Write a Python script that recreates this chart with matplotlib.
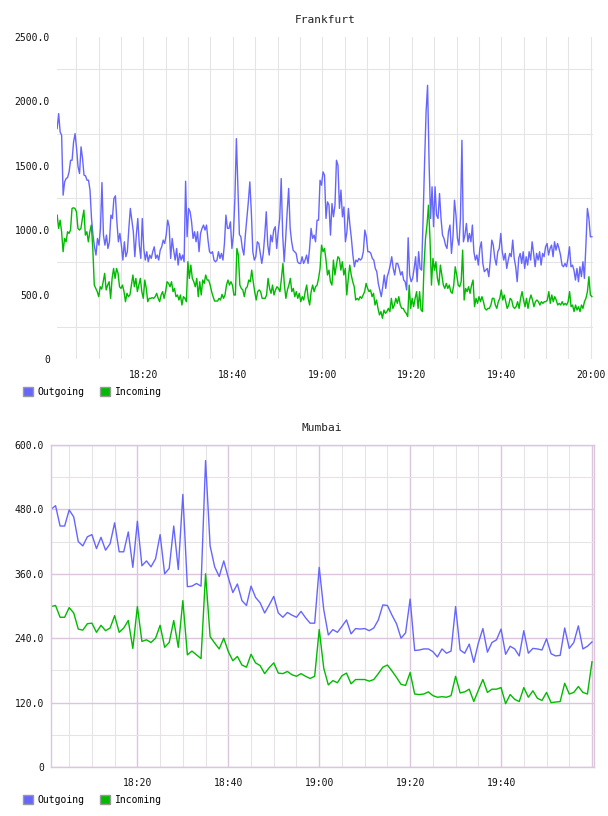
import matplotlib
matplotlib.use("Agg")
import matplotlib.pyplot as plt
import matplotlib.dates as mdates
from matplotlib.patches import Patch
from matplotlib.ticker import MultipleLocator, FuncFormatter
import pandas as pd

BLUE = "#6666ff"
GREEN = "#00bb00"
FONT = "DejaVu Sans Mono"

# Frankfurt, ~20 s samples from 18:00:45 to 20:00:15
fra_out = [
    1789, 1905, 1763, 1737, 1272, 1375, 1401, 1409, 1453, 1543,
    1543, 1685, 1750, 1634, 1492, 1440, 1647, 1556, 1427, 1422,
    1388, 1388, 1311, 1091, 962, 871, 807, 936, 884, 1014,
    1370, 962, 884, 962, 858, 910, 1117, 1091, 1246, 1267,
    1065, 910, 975, 884, 768, 910, 794, 833, 1014, 1169,
    1078, 988, 794, 962, 1091, 884, 781, 1091, 858, 768,
    833, 755, 807, 781, 833, 871, 781, 807, 768, 845,
    871, 923, 897, 962, 1078, 1027, 781, 936, 845, 768,
    858, 729, 820, 768, 807, 755, 1380, 949, 1169, 1143,
    1065, 936, 988, 910, 988, 833, 975, 1014, 1040, 1001,
    1040, 923, 833, 820, 833, 768, 755, 768, 833, 781,
    820, 768, 897, 1117, 1014, 1014, 1065, 858, 962, 1246,
    1711, 1349, 967, 949, 858, 807, 962, 1091, 1220, 1375,
    1143, 833, 768, 794, 910, 897, 820, 742, 820, 962,
    1143, 884, 807, 962, 910, 1001, 1027, 858, 988, 1091,
    1401, 962, 755, 936, 1143, 1324, 1014, 910, 845, 833,
    820, 755, 742, 742, 794, 742, 768, 807, 742, 858,
    1014, 936, 962, 910, 1078, 1078, 1388, 1349, 1453,
    1427, 1091, 1220, 1194, 962, 1207, 1104, 1194, 1543, 1505,
    1169, 1311, 1104, 1181, 910, 988, 1169, 1040, 936, 807,
    716, 768, 755, 781, 768, 781, 833, 1001, 949, 833,
    833, 820, 781, 768, 703, 678, 587, 536, 484, 561,
    652, 548, 639, 678, 729, 794, 703, 652, 742, 742,
    703, 652, 678, 613, 600, 536, 941, 652, 600, 626,
    703, 794, 600, 833, 703, 690, 1091, 1530, 1918, 2125,
    1530, 1091, 1337, 1027, 1337, 1117, 1091, 1285, 1091, 962,
    936, 884, 858, 988, 1040, 820, 949, 1233, 1117, 936,
    884, 1091, 1698, 910, 962, 1052, 910, 975, 910, 1040,
    833, 768, 807, 729, 858, 910, 742, 678, 690, 703,
    639, 768, 923, 884, 781, 729, 833, 858, 975, 833,
    768, 820, 703, 768, 820, 794, 923, 781, 716, 600,
    781, 820, 742, 833, 703, 794, 729, 833, 768, 910,
    820, 716, 820, 768, 833, 729, 820, 794, 871, 897,
    807, 858, 884, 794, 910, 845, 897, 858, 807, 729,
    716, 742, 716, 781, 871, 716, 729, 690, 613, 703,
    600, 716, 639, 755, 626, 884, 1169, 1091, 949, 949,
]
fra_in = [
    1117, 1014, 1078, 988, 833, 936, 910, 988, 975, 1001,
    1169, 1174, 1169, 1143, 1014, 1001, 1014, 1091, 1156, 962,
    988, 910, 988, 1040, 858, 574, 548, 523, 484, 561,
    543, 600, 665, 536, 574, 600, 471, 626, 703, 626,
    703, 665, 561, 548, 574, 523, 445, 510, 484, 497,
    574, 652, 561, 626, 523, 574, 626, 523, 471, 613,
    548, 445, 471, 471, 476, 471, 484, 510, 471, 445,
    497, 523, 471, 523, 600, 587, 561, 600, 523, 548,
    484, 497, 458, 497, 419, 484, 471, 445, 755, 626,
    729, 626, 600, 561, 626, 484, 600, 497, 613, 587,
    652, 613, 613, 574, 523, 484, 450, 450, 450, 471,
    458, 502, 471, 497, 574, 613, 574, 600, 574, 497,
    497, 858, 807, 574, 548, 536, 484, 548, 561, 613,
    600, 690, 600, 523, 458, 523, 536, 523, 471, 471,
    471, 497, 626, 548, 510, 574, 497, 536, 561, 548,
    523, 626, 742, 574, 471, 536, 574, 626, 523, 548,
    484, 523, 471, 510, 445, 484, 458, 523, 574, 471,
    419, 523, 574, 523, 561, 574, 626, 703, 884, 833,
    858,
    768, 652, 690, 600, 574, 768, 652, 729, 794, 781,
    690, 755, 652, 703, 497, 626, 729, 652, 600, 561,
    458, 471, 458, 484, 471, 497, 523, 587, 548, 523,
    536, 484, 510, 419, 458, 393, 342, 368, 316, 380,
    355, 368, 393, 368, 471, 393, 419, 471, 432, 484,
    419, 393, 393, 368, 355, 329, 574, 393, 471, 406,
    471, 523, 393, 523, 380, 368, 729, 936, 1040, 1194,
    936, 574, 781, 690, 755, 626, 574, 729, 652, 574,
    548, 587, 548, 574, 523, 510, 574, 716, 652, 574,
    561, 600, 845, 458, 548, 523, 561, 510, 574, 613,
    406, 471, 432, 484, 445, 484, 445, 393, 380, 393,
    393, 419, 471, 471, 419, 393, 445, 471, 536, 458,
    497, 445, 393, 419, 471, 458, 406, 393, 406, 445,
    393, 471, 523, 458, 406, 471, 393, 458, 497, 458,
    406, 445, 458, 445, 419, 445, 432, 445, 445, 458,
    523, 432, 497, 445, 484, 458, 419, 432, 419, 445,
    419, 432, 419, 445, 523, 406, 419, 368, 419, 380,
    406, 368, 419, 393, 445, 471, 523, 639, 497, 484,
]

# Mumbai, one sample per minute 18:01 .. 20:00
mum_out = [
    480, 487, 449, 449, 479, 466, 420, 412, 429, 433,
    407, 428, 404, 416, 455, 401, 401, 438, 372, 458,
    375, 384, 373, 388, 433, 360, 370, 449, 368, 508,
    336, 337, 342, 337, 571, 412, 373, 355, 384, 353,
    325, 341, 310, 301, 337, 316, 306, 287, 302, 318,
    287, 279, 288, 283, 279, 290, 278, 268, 268, 372,
    293, 246, 256, 251, 262, 274, 248, 258, 257, 258,
    254, 259, 274, 302, 301, 283, 267, 240, 250, 313,
    217, 218, 220, 220, 215, 205, 220, 212, 216, 299,
    218, 212, 229, 195, 231, 258, 214, 232, 237, 257,
    210, 225, 220, 207, 254, 212, 221, 220, 218, 239,
    211, 207, 208, 259, 221, 232, 263, 220, 225, 233,
]
mum_in = [
    299, 301, 279, 279, 297, 287, 257, 255, 267, 268,
    251, 264, 254, 259, 282, 251, 259, 273, 221, 299,
    234, 237, 232, 240, 264, 223, 232, 273, 223, 310,
    209, 216, 209, 202, 360, 243, 231, 220, 240, 215,
    198, 206, 190, 186, 210, 194, 189, 174, 185, 194,
    175, 174, 178, 172, 169, 174, 169, 165, 169, 256,
    184, 153, 161, 157, 170, 175, 155, 163, 163, 163,
    160, 163, 174, 186, 190, 179, 167, 154, 152, 176,
    136, 135, 136, 140, 133, 130, 131, 130, 133, 169,
    138, 140, 145, 122, 143, 163, 139, 145, 145, 148,
    118, 135, 126, 122, 148, 130, 142, 128, 124, 139,
    120, 121, 122, 156, 136, 139, 150, 139, 136, 196,
]

DAY = "2024-01-01 "
fra_t_out = pd.date_range(DAY + "18:00:45", DAY + "20:00:15", periods=len(fra_out))
fra_t_in = pd.date_range(DAY + "18:00:45", DAY + "20:00:15", periods=len(fra_in))
mum_t = pd.date_range(DAY + "18:01", periods=len(mum_out), freq="1min")


def yfmt(v, pos):
    return "0" if v == 0 else f"{v:.1f}"


def setup(ax, title, ymax, ystep, xlim, major_col, minor_col, hide_major):
    ax.set_xlim(pd.Timestamp(DAY + xlim[0]), pd.Timestamp(DAY + xlim[1]))
    ax.set_ylim(0, ymax)
    ax.yaxis.set_major_locator(MultipleLocator(ystep))
    ax.yaxis.set_minor_locator(MultipleLocator(ystep / 2))
    ax.yaxis.set_major_formatter(FuncFormatter(yfmt))
    ax.xaxis.set_major_locator(mdates.MinuteLocator(byminute=[0, 20, 40]))
    ax.xaxis.set_minor_locator(mdates.MinuteLocator(byminute=range(0, 60, 5)))
    ax.xaxis.set_major_formatter(mdates.DateFormatter("%H:%M"))
    ax.tick_params(which="both", length=0)
    ax.tick_params(axis="x", pad=8, labelsize=7, labelcolor="#111111")
    ax.tick_params(axis="y", pad=5, labelsize=7, labelcolor="#111111")
    for lab in ax.get_xticklabels() + ax.get_yticklabels():
        lab.set_family(FONT)
    ax.grid(which="minor", color=minor_col, lw=0.75)
    ax.grid(axis="x", which="major", color=major_col if not hide_major else minor_col,
            lw=0.75 if hide_major else 1.0)
    if not hide_major:
        ax.grid(axis="y", which="major", color=major_col, lw=1.0)
    ax.set_axisbelow(True)
    ax.set_title(title, family=FONT, fontsize=8, color="#222222", pad=10)


fig = plt.figure(figsize=(6.08, 8.16), dpi=100)

ax1 = fig.add_axes([57 / 608, 1 - 359 / 816, 536 / 608, 322 / 816])
setup(ax1, "Frankfurt", 2500, 500, ("18:00:43", "20:00:30"), "#e4e4e4", "#e4e4e4", True)
for s in ax1.spines.values():
    s.set_visible(False)
ax1.plot(fra_t_out, fra_out, color=BLUE, lw=1.0)
ax1.plot(fra_t_in, fra_in, color=GREEN, lw=1.0)

ax2 = fig.add_axes([51 / 608, 1 - 767 / 816, 542.5 / 608, 322 / 816])
setup(ax2, "Mumbai", 600, 120, ("18:01", "20:00:20"), "#dcc6dc", "#e6e2e6", False)
for s in ax2.spines.values():
    s.set_color("#dcc6dc")
    s.set_linewidth(1.0)
ax2.plot(mum_t, mum_out, color=BLUE, lw=1.0)
ax2.plot(mum_t, mum_in, color=GREEN, lw=1.0)
# the reference shows no 20:00 label under Mumbai
fig.canvas.draw()
for lab in ax2.get_xticklabels():
    if lab.get_text() == "20:00":
        lab.set_visible(False)

handles = [Patch(facecolor=BLUE, edgecolor="#999999", label="Outgoing"),
           Patch(facecolor=GREEN, edgecolor="#999999", label="Incoming")]
for ypix in (392, 800):
    fig.legend(handles=handles, loc="center left", bbox_to_anchor=(23 / 608, 1 - ypix / 816),
               ncol=2, frameon=False, handlelength=1.0, handleheight=1.0,
               handletextpad=0.5, columnspacing=1.6, borderpad=0, borderaxespad=0,
               prop={"family": FONT, "size": 7})

fig.savefig("out.png", dpi=100)
